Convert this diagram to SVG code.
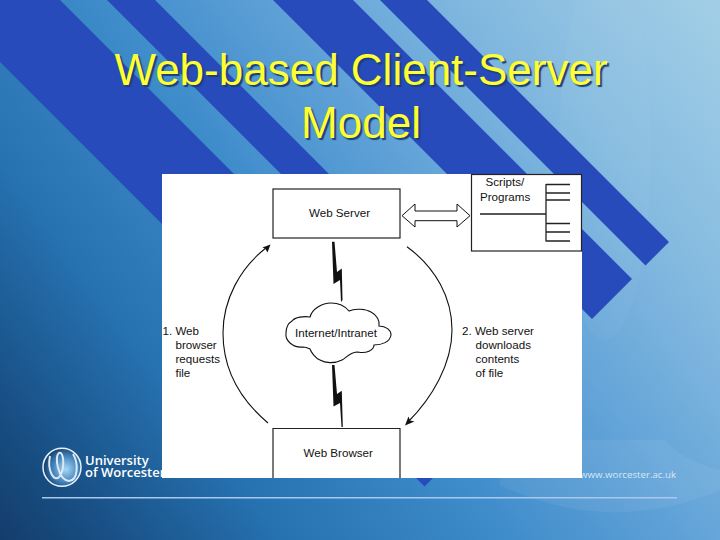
<svg xmlns="http://www.w3.org/2000/svg" width="720" height="540" viewBox="0 0 720 540">
<style>
text{font-family:"Liberation Sans",Arial,sans-serif}
.t{font-size:44px;fill:#ffff33;text-anchor:middle;text-shadow:2px 2px 1px #1c3f78}
.l{font-size:11.6px;fill:#111}
.b{fill:#fff;stroke:#222;stroke-width:1.2}
.c{fill:none;stroke:#111;stroke-width:1.1}
.k{fill:none;stroke:#222;stroke-width:1.3}
.band{fill:#274bbb}
.z{fill:#111}
.u{font-size:13px;font-weight:600;fill:#fff;font-family:"Open Sans",sans-serif}
</style>
<defs>
<linearGradient id="bg" gradientUnits="userSpaceOnUse" x1="0" y1="540" x2="720" y2="0">
<stop offset="0" stop-color="#143d6c"/>
<stop offset="0.08" stop-color="#174c80"/>
<stop offset="0.25" stop-color="#2671b0"/>
<stop offset="0.45" stop-color="#3f8ccb"/>
<stop offset="0.62" stop-color="#62a3d8"/>
<stop offset="0.8" stop-color="#86bbe0"/>
<stop offset="1" stop-color="#a2cfe6"/>
</linearGradient>
<radialGradient id="orb" cx="0.6" cy="0.55" r="0.6">
<stop offset="0" stop-color="#a8d8f5"/>
<stop offset="0.6" stop-color="#3f7fb8"/>
<stop offset="1" stop-color="#123a68"/>
</radialGradient>
</defs>
<g id="background">
<rect width="720" height="540" fill="url(#bg)"/>
<ellipse cx="605" cy="150" rx="46" ry="190" fill="#fff" opacity="0.03"/>
<path d="M500 485C560 515 640 525 720 490V470C690 462 675 452 665 440H500Z" fill="#fff" opacity="0.06"/>
<path d="M60 0H-62L424.500 486.500L485.500 425.500Z" class="band"/>
<path d="M107 0H155L533 378L509 402Z" class="band"/>
<path d="M273 0H353L632 279L592 319Z" class="band"/>
<path d="M380 0H427L669 242L645.500 265.500Z" class="band"/>
</g>
<g id="title">
<text class="t" x="361" y="85">Web-based Client-Server</text>
<text class="t" x="361" y="138">Model</text>
</g>
<g id="footer">
<circle cx="62" cy="467.300" r="19" fill="url(#orb)" stroke="#e8f2fa" stroke-width="1.500"/>
<path d="M50 456C47 470 54 484 60 476C65 468 64 451 59 453C54 456 58 480 69 481C79 480 78 462 73 454" fill="none" stroke="#dbe9f5" stroke-width="2"/>
<text class="u" x="85" y="465">University</text>
<text class="u" x="85" y="477">of Worcester</text>
<text x="580" y="477.700" font-size="9.700" fill="#d8e8f5" style="font-family:'Open Sans',sans-serif">www.worcester.ac.uk</text>
<rect x="42" y="497" width="635" height="1.500" fill="#a8c8ee"/>
</g>
<rect id="panel" x="162" y="174" width="420" height="304" fill="#fff"/>
<g id="connectors">
<path class="c" d="M268 423C236 396 223 364 223 333C223 300 240 268 266 248"/>
<path class="z" d="M270.500 244.500L262.500 247.500L265.500 249L267.500 252.500Z"/>
<path class="c" d="M407 246.700C436 268 452 298 452 330C452 364 432 398 408 422"/>
<path class="z" d="M405 425.500L408.500 416.500L410 420.500L414.500 421.500Z"/>
<path fill="#fff" stroke="#111" stroke-width="1" d="M402 215.700L415 204V211H457V204L470 215.700L457 227V220.700H415V227Z"/>
<path class="z" d="M332 241.700L334.500 241.700L337 272L341.800 268.500L342.500 300L341 302L340 280L333.500 284Z"/>
<path class="z" d="M332 365L334.500 365L337 394L341.800 390.700L342.800 427L341.500 427L340 403L333.500 406.500Z"/>
</g>
<g id="web-server">
<rect class="b" x="273" y="189" width="127" height="49"/>
<text class="l" x="309" y="216.500">Web Server</text>
</g>
<g id="scripts">
<rect class="b" x="471.500" y="174.500" width="110" height="76.500"/>
<text class="l" x="485.500" y="186">Scripts/</text>
<text class="l" x="480" y="200.700">Programs</text>
<path class="k" d="M480 214H546M546 184V241.500M546 184.500H570M546 193H570M546 200H570M546 223.500H570M546 232H570M546 241H570"/>
</g>
<g id="cloud">
<path fill="#fff" stroke="#111" stroke-width="1.100" d="M303 347C292 348 285 340 286 333C286 328 287 324 292 321C295 317 304 316 310 317C312 309 322 303 331 303C339 303 345 306 349 311C355 308 366 309 371 312C377 315 380 321 379 326C386 326 391 330 391 335C390 342 382 345 374 345C374 350 366 354 358 352C350 352 346 358 342 360C334 364 325 363 320 360C315 358 311 352 310 349C308 348 305 347 303 347Z"/>
<text class="l" x="295" y="336.700">Internet/Intranet</text>
</g>
<g id="web-browser">
<path class="b" d="M273 478V428.500H400V478"/>
<text class="l" x="303.500" y="456.500">Web Browser</text>
</g>
<g id="label-1">
<text class="l" x="162.500" y="335">1. Web</text>
<text class="l" x="175.500" y="349">browser</text>
<text class="l" x="175.500" y="363">requests</text>
<text class="l" x="175.500" y="377">file</text>
</g>
<g id="label-2">
<text class="l" x="462" y="335">2. Web server</text>
<text class="l" x="475.500" y="349">downloads</text>
<text class="l" x="475.500" y="363">contents</text>
<text class="l" x="475.500" y="377">of file</text>
</g>
</svg>
